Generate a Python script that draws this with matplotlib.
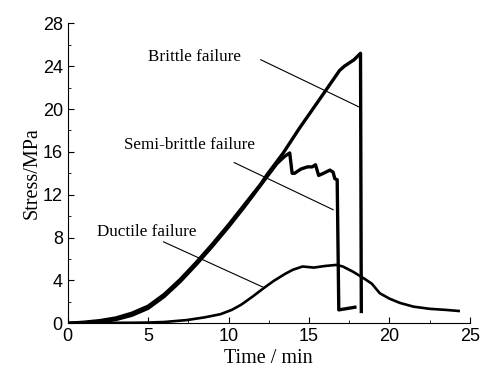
import matplotlib.pyplot as plt
import numpy as np

# brittle failure curve
t_brittle = [0, 1, 2, 3, 4, 5, 6, 7, 8, 9, 10, 11, 12, 12.4, 13.4, 14.4, 15.7, 16.9, 17.2, 17.5, 17.8, 18.2, 18.25]
s_brittle = [0, 0.1, 0.25, 0.5, 0.95, 1.6, 2.7, 4.1, 5.7, 7.4, 9.2, 11.1, 13.0, 13.9, 15.9, 18.2, 21.0, 23.6, 24.0, 24.3, 24.6, 25.2, 1.1]

# semi-brittle failure curve
t_semi = [0, 1, 2, 3, 4, 5, 6, 7, 8, 9, 10, 11, 12, 13, 13.5, 13.8, 13.95, 14.1, 14.5, 14.9, 15.2, 15.4, 15.6, 15.9, 16.3, 16.5, 16.6, 16.75, 16.85, 17.85]
s_semi = [0, 0.05, 0.12, 0.35, 0.75, 1.4, 2.5, 3.9, 5.5, 7.2, 9.0, 10.9, 12.9, 14.9, 15.6, 15.9, 14.0, 14.0, 14.4, 14.6, 14.6, 14.8, 13.8, 14.0, 14.3, 14.1, 13.5, 13.4, 1.25, 1.5]

# ductile failure curve
t_duct = [0, 2, 4, 5, 6, 7.4, 8.5, 9.5, 10.2, 10.8, 11.5, 12.2, 12.8, 13.5, 14.0, 14.6, 15.3, 16.0, 16.7, 17.1, 17.75, 18.4, 18.9, 19.4, 20.0, 20.65, 21.5, 22.5, 23.5, 24.3]
s_duct = [0.03, 0.04, 0.05, 0.07, 0.12, 0.3, 0.55, 0.85, 1.25, 1.75, 2.5, 3.3, 3.95, 4.6, 5.0, 5.3, 5.2, 5.35, 5.45, 5.3, 4.8, 4.2, 3.7, 2.8, 2.3, 1.9, 1.55, 1.35, 1.25, 1.15]

labels = ['Brittle failure', 'Semi-brittle failure', 'Ductile failure']
label_pos = [(5.0, 24.9), (3.5, 16.6), (1.8, 8.55)]
leader_lines = [((12.0, 24.6), (18.1, 20.2)),
                ((10.35, 15.0), (16.5, 10.6)),
                ((5.96, 7.6), (12.16, 3.36))]

fig = plt.figure(figsize=(4.8, 3.79), dpi=100)
ax = fig.add_axes([0.141, 0.147, 0.838, 0.7915])

ax.plot(t_brittle, s_brittle, color='black', lw=2.4)
ax.plot(t_semi, s_semi, color='black', lw=2.4)
ax.plot(t_duct, s_duct, color='black', lw=1.9)

serif = 'Liberation Serif'
for lab, (x, y), (p0, p1) in zip(labels, label_pos, leader_lines):
    ax.text(x, y, lab, fontsize=12.3, family=serif, va='center', ha='left')
    ax.plot([p0[0], p1[0]], [p0[1], p1[1]], color='black', lw=0.8)

ax.set_xlim(0, 25)
ax.set_ylim(0, 28)
ax.set_xticks(np.arange(0, 26, 5))
ax.set_yticks(np.arange(0, 29, 4))
ax.set_xticks(np.arange(2.5, 25, 5), minor=True)
ax.set_yticks(np.arange(2, 28, 4), minor=True)
ax.tick_params(which='both', direction='in', labelsize=13)
ax.tick_params(which='major', length=4)
ax.tick_params(which='minor', length=2)
for t in ax.get_xticklabels() + ax.get_yticklabels():
    t.set_family('Liberation Sans')

ax.spines['top'].set_visible(False)
ax.spines['right'].set_visible(False)

ax.set_xlabel('Time / min', fontsize=14.5, family=serif, labelpad=3)
ax.set_ylabel('Stress/MPa', fontsize=14.5, family=serif, labelpad=1)

plt.savefig('out.png', dpi=100)
